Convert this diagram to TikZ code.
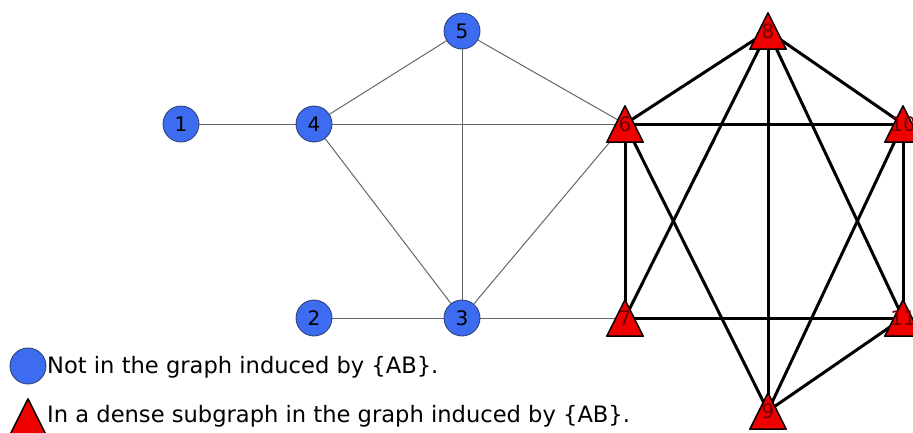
\documentclass[tikz,border=0pt]{standalone}
\usepackage{fontspec}
\setmainfont{DejaVu Sans}
\definecolor{nodeblue}{RGB}{62,108,240}
\definecolor{rimblue}{RGB}{40,60,110}
\definecolor{nodered}{RGB}{238,0,0}
\definecolor{labelred}{RGB}{110,0,0}
\pgfdeclarelayer{edges}
\pgfdeclarelayer{marks}
\pgfsetlayers{edges,marks,main}

\begin{document}
\begin{tikzpicture}[x=1pt, y=-1pt,
  outnode/.style={circle, draw=rimblue, fill=nodeblue, line width=0.8pt,
                  minimum size=36pt, inner sep=0pt, font=\fontsize{20}{24}\selectfont},
  densenode/.style={rectangle, minimum size=36pt, inner sep=0pt, text=labelred,
                    font=\fontsize{20}{24}\selectfont},
  tri/.style={fill=nodered, draw=black, line width=1.5pt, line join=round},
  thin/.style={draw=black!60, line width=1pt},
  thick/.style={draw=black, line width=3pt},
  legend/.style={anchor=west, inner sep=0pt, font=\fontsize{22.6}{27}\selectfont}]
\useasboundingbox (0,0) rectangle (913,432);
\node[outnode] (n1) at (181,124) {1};
\node[outnode] (n4) at (314,124) {4};
\node[outnode] (n5) at (462,31) {5};
\node[outnode] (n2) at (314,318) {2};
\node[outnode] (n3) at (462,318) {3};
\node[densenode] (n6) at (625,124) {6};
\node[densenode] (n8) at (768,31) {8};
\node[densenode] (n10) at (903,124) {10};
\node[densenode] (n7) at (625,318) {7};
\node[densenode] (n11) at (903,318) {11};
\node[densenode] (n9) at (768,411) {9};
\node[outnode] (k1) at (28,366) {};
\node[legend] (t1) at (47,367) {Not in the graph induced by \{AB\}.};
\node[densenode] (k2) at (28,417) {};
\node[legend] (t2) at (47,416) {In a dense subgraph in the graph induced by \{AB\}.};
\begin{pgfonlayer}{marks}
\foreach \n in {n6,n8,n10,n7,n11,n9,k2}
  \draw[tri] (\n.north) -- (\n.south east) -- (\n.south west) -- cycle;
\end{pgfonlayer}
\begin{pgfonlayer}{edges}
\draw[thin] (n1) -- (n4); \draw[thin] (n4) -- (n5); \draw[thin] (n4) -- (n6.center);
\draw[thin] (n4) -- (n3); \draw[thin] (n5) -- (n3); \draw[thin] (n5) -- (n6.center);
\draw[thin] (n3) -- (n6.center); \draw[thin] (n2) -- (n3); \draw[thin] (n3) -- (n7.center);
\draw[thick] (n6.center) -- (n8.center); \draw[thick] (n6.center) -- (n10.center); \draw[thick] (n6.center) -- (n7.center);
\draw[thick] (n6.center) -- (n9.center); \draw[thick] (n8.center) -- (n10.center); \draw[thick] (n8.center) -- (n7.center);
\draw[thick] (n8.center) -- (n9.center); \draw[thick] (n8.center) -- (n11.center); \draw[thick] (n10.center) -- (n11.center);
\draw[thick] (n10.center) -- (n9.center); \draw[thick] (n7.center) -- (n11.center); \draw[thick] (n9.center) -- (n11.center);
\end{pgfonlayer}
\end{tikzpicture}
\end{document}
